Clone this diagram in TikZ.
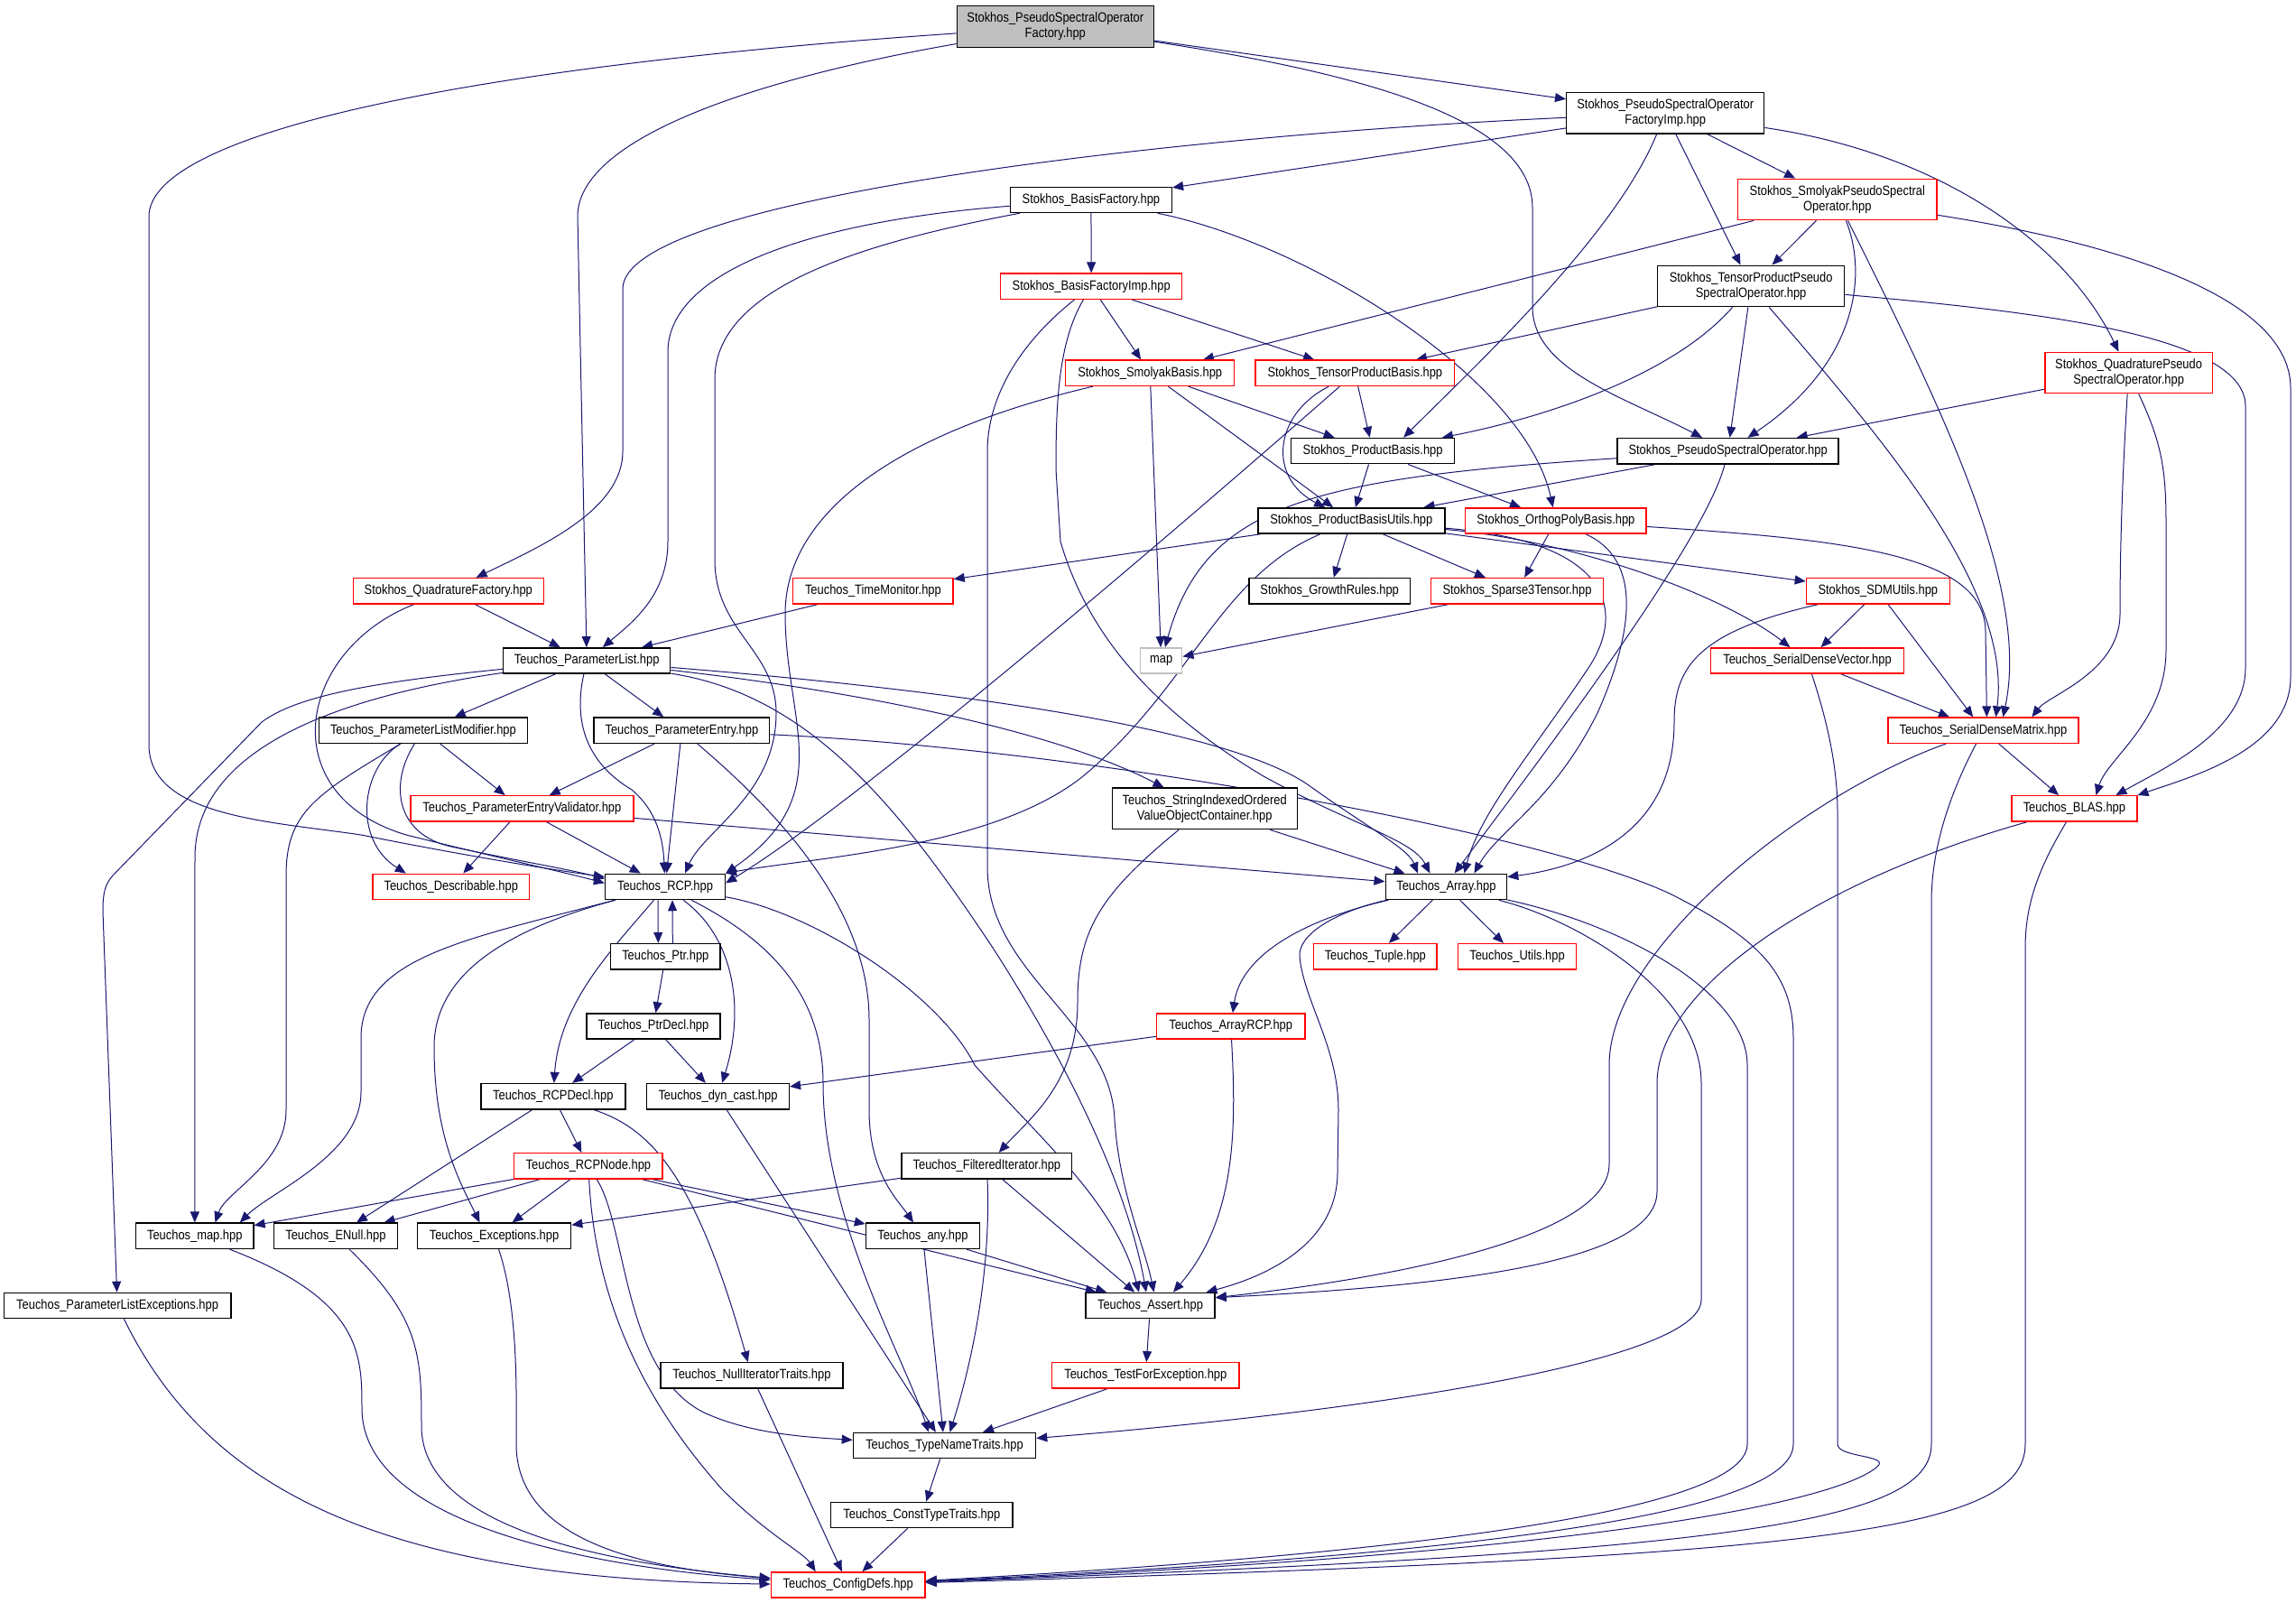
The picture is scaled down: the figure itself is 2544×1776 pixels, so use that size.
\documentclass[tikz,border=0pt]{standalone}
\usepackage{fontspec}
\setmainfont{Liberation Sans}[FakeStretch=0.86]
\usetikzlibrary{arrows.meta}
\definecolor{edgec}{HTML}{191970}
\definecolor{rbord}{HTML}{FF0000}
\definecolor{gfill}{HTML}{BFBFBF}
\pgfdeclarelayer{bgl}
\pgfdeclarelayer{edges}
\pgfsetlayers{bgl,edges,main}
\begin{document}
\begin{tikzpicture}[x=0.5pt,y=-0.5pt,
 box/.style={draw=black, line width=0.7pt, fill=white, inner sep=0pt, minimum height=14.15pt, font=\fontsize{7.5}{8.6}\selectfont, align=center},
 two/.style={minimum height=22.75pt},
 rbox/.style={box, draw=rbord},
 e/.style={draw=edgec, line width=0.5pt, -{Triangle[length=6pt,width=5pt]}}]
\begin{pgfonlayer}{bgl}
\fill[white] (0,0) rectangle (2544,1776);
\end{pgfonlayer}
\useasboundingbox (0,0) rectangle (2544,1776);
% nodes
\node[box,two,fill=gfill,minimum width=109pt] (root) at (1169.3,29.5) {Stokhos\_PseudoSpectralOperator\\Factory.hpp};
\node[box,two,minimum width=109.5pt] (fimp) at (1845.2,125.3) {Stokhos\_PseudoSpectralOperator\\FactoryImp.hpp};
\node[box,minimum width=89.5pt] (bf) at (1208.9,221.4) {Stokhos\_BasisFactory.hpp};
\node[rbox,two,minimum width=110.3pt] (spso) at (2035.8,221) {Stokhos\_SmolyakPseudoSpectral\\Operator.hpp};
\node[rbox,minimum width=100.5pt] (bfi) at (1209.2,317.2) {Stokhos\_BasisFactoryImp.hpp};
\node[box,two,minimum width=103.5pt] (tpso) at (1940.1,317) {Stokhos\_TensorProductPseudo\\SpectralOperator.hpp};
\node[rbox,minimum width=93.5pt] (sb) at (1274.2,413.3) {Stokhos\_SmolyakBasis.hpp};
\node[rbox,minimum width=110.3pt] (tpb) at (1501.3,413.3) {Stokhos\_TensorProductBasis.hpp};
\node[rbox,two,minimum width=92.7pt] (qpso) at (2358.6,413) {Stokhos\_QuadraturePseudo\\SpectralOperator.hpp};
\node[box,minimum width=90.5pt] (pb) at (1521.1,499.6) {Stokhos\_ProductBasis.hpp};
\node[box,minimum width=122.5pt] (pso) at (1914.6,499.7) {Stokhos\_PseudoSpectralOperator.hpp};
\node[box,minimum width=103.5pt] (pbu) at (1497.3,577) {Stokhos\_ProductBasisUtils.hpp};
\node[rbox,minimum width=100.25pt] (opb) at (1723.9,577) {Stokhos\_OrthogPolyBasis.hpp};
\node[rbox,minimum width=105.5pt] (qf) at (496.8,654.7) {Stokhos\_QuadratureFactory.hpp};
\node[rbox,minimum width=88.65pt] (tm) at (967.4,654.7) {Teuchos\_TimeMonitor.hpp};
\node[box,minimum width=89.15pt] (gr) at (1473.2,654.7) {Stokhos\_GrowthRules.hpp};
\node[rbox,minimum width=95.4pt] (s3t) at (1681,654.7) {Stokhos\_Sparse3Tensor.hpp};
\node[rbox,minimum width=79.4pt] (sdmu) at (2080.8,654.7) {Stokhos\_SDMUtils.hpp};
\node[box,minimum width=92.5pt] (pl) at (650.2,732) {Teuchos\_ParameterList.hpp};
\node[box,draw=gfill,minimum width=23pt] (mapstd) at (1286.7,732) {map};
\node[rbox,minimum width=106.75pt] (sdv) at (2002.5,732) {Teuchos\_SerialDenseVector.hpp};
\node[box,minimum width=115.5pt] (plm) at (468.9,809.2) {Teuchos\_ParameterListModifier.hpp};
\node[box,minimum width=97.3pt] (pe) at (755.4,809.2) {Teuchos\_ParameterEntry.hpp};
\node[rbox,minimum width=105.45pt] (sdm) at (2197.4,809.2) {Teuchos\_SerialDenseMatrix.hpp};
\node[rbox,minimum width=123.5pt] (pev) at (578.4,895.9) {Teuchos\_ParameterEntryValidator.hpp};
\node[box,two,minimum width=102.5pt] (sio) at (1334.7,895.9) {Teuchos\_StringIndexedOrdered\\ValueObjectContainer.hpp};
\node[rbox,minimum width=69.4pt] (blas) at (2298.4,895.9) {Teuchos\_BLAS.hpp};
\node[rbox,minimum width=86.7pt] (desc) at (499.8,982.4) {Teuchos\_Describable.hpp};
\node[box,minimum width=66.4pt] (rcp) at (737,982.4) {Teuchos\_RCP.hpp};
\node[box,minimum width=67.2pt] (arr) at (1602.4,982.4) {Teuchos\_Array.hpp};
\node[box,minimum width=60.75pt] (ptr) at (737.3,1059.7) {Teuchos\_Ptr.hpp};
\node[rbox,minimum width=68.3pt] (tuple) at (1523.8,1059.7) {Teuchos\_Tuple.hpp};
\node[rbox,minimum width=65.6pt] (utils) at (1681,1059.7) {Teuchos\_Utils.hpp};
\node[box,minimum width=74pt] (ptrdecl) at (724,1137) {Teuchos\_PtrDecl.hpp};
\node[rbox,minimum width=82.15pt] (arcp) at (1363.7,1137) {Teuchos\_ArrayRCP.hpp};
\node[box,minimum width=80pt] (rcpdecl) at (612.8,1214.7) {Teuchos\_RCPDecl.hpp};
\node[box,minimum width=78.85pt] (dyn) at (795.5,1214.7) {Teuchos\_dyn\_cast.hpp};
\node[rbox,minimum width=82.15pt] (rcpnode) at (651.9,1291.8) {Teuchos\_RCPNode.hpp};
\node[box,minimum width=94.3pt] (fit) at (1093.4,1291.8) {Teuchos\_FilteredIterator.hpp};
\node[box,minimum width=65.05pt] (tmap) at (215.8,1369.3) {Teuchos\_map.hpp};
\node[box,minimum width=68.3pt] (enull) at (371.9,1369.3) {Teuchos\_ENull.hpp};
\node[box,minimum width=85.1pt] (exc) at (547.5,1369.3) {Teuchos\_Exceptions.hpp};
\node[box,minimum width=62.9pt] (any) at (1022.4,1369.3) {Teuchos\_any.hpp};
\node[box,minimum width=125.8pt] (ple) at (130.1,1446.5) {Teuchos\_ParameterListExceptions.hpp};
\node[box,minimum width=71.55pt] (asrt) at (1274.5,1446.5) {Teuchos\_Assert.hpp};
\node[box,minimum width=101.1pt] (nit) at (832.9,1523.9) {Teuchos\_NullIteratorTraits.hpp};
\node[rbox,minimum width=103.8pt] (tfe) at (1269.3,1523.9) {Teuchos\_TestForException.hpp};
\node[box,minimum width=101.1pt] (tnt) at (1046.5,1601.6) {Teuchos\_TypeNameTraits.hpp};
\node[box,minimum width=100.8pt] (ctt) at (1021.3,1678.5) {Teuchos\_ConstTypeTraits.hpp};
\node[rbox,minimum width=85.4pt] (cfg) at (939.7,1756) {Teuchos\_ConfigDefs.hpp};
% edges
\begin{pgfonlayer}{edges}
% root
\draw[e] (root) -- (fimp);
\draw[e] (root) .. controls (500,75) and (165,150) .. (165,240) -- (165,825) .. controls (165,905) and (300,910) .. (400,925) .. controls (500,945) and (600,962) .. ([yshift=-2pt]rcp.north west);
\draw[e] (root) .. controls (850,85) and (640,150) .. (640,240) -- (pl);
\draw[e] (root) .. controls (1500,80) and (1698,130) .. (1698,230) -- (1698,340) .. controls (1698,410) and (1800,440) .. (pso);
% fimp
\draw[e] (fimp) -- (bf);
\draw[e] (fimp) .. controls (1300,150) and (690,220) .. (690,320) -- (690,500) .. controls (690,565) and (600,605) .. (qf);
\draw[e] (fimp) -- (spso);
\draw[e] (fimp) -- (tpso);
\draw[e] (fimp) .. controls (2150,170) and (2290,270) .. (qpso);
\draw[e] (fimp) .. controls (1790,260) and (1640,400) .. ([xshift=17pt]pb.north);
% bf
\draw[e] (bf) -- (bfi);
\draw[e] (bf) .. controls (900,245) and (740,300) .. (740,390) -- (740,600) .. controls (740,660) and (700,690) .. (pl);
\draw[e] (bf) .. controls (950,270) and (792,320) .. (792,420) -- (792,620) .. controls (792,700) and (860,720) .. (860,790) .. controls (860,880) and (780,920) .. ([xshift=11pt]rcp.north);
\draw[e] (bf) .. controls (1450,270) and (1690,420) .. (opb);
% bfi
\draw[e] (bfi) -- (sb);
\draw[e] (bfi) -- (tpb);
\draw[e] (bfi) .. controls (1130,380) and (1094,440) .. (1094,500) -- (1094,960) .. controls (1094,1080) and (1230,1130) .. (1235,1240) .. controls (1240,1320) and (1268,1380) .. ([xshift=2pt]asrt.north);
\draw[e] (bfi) .. controls (1172,380) and (1170,450) .. (1170,520) -- (1175,600) .. controls (1210,720) and (1300,800) .. (1400,860) .. controls (1500,915) and (1565,930) .. ([xshift=-9pt]arr.north);
% spso
\draw[e] (spso) -- (sb);
\draw[e] (spso) -- (tpso);
\draw[e] (spso) .. controls (2068,300) and (2062,400) .. (pso);
\draw[e] (spso) .. controls (2150,450) and (2250,650) .. ([xshift=11pt]sdm.north);
\draw[e] (spso) .. controls (2350,270) and (2538,330) .. (2538,430) -- (2538,750) .. controls (2538,830) and (2430,860) .. (blas.north east);
% tpso
\draw[e] (tpso) -- (tpb);
\draw[e] (tpso) .. controls (1850,420) and (1700,465) .. (pb);
\draw[e] (tpso) -- (pso);
\draw[e] (tpso) .. controls (2080,480) and (2230,650) .. ([xshift=7pt]sdm.north);
\draw[e] (tpso) .. controls (2250,345) and (2488,370) .. (2488,450) -- (2488,740) .. controls (2488,810) and (2400,850) .. ([xshift=23pt]blas.north);
% qpso
\draw[e] (qpso) -- (pso);
\draw[e] (qpso) .. controls (2352,520) and (2349,600) .. (2349,680) .. controls (2349,745) and (2270,770) .. ([xshift=27pt]sdm.north);
\draw[e] (qpso) .. controls (2395,490) and (2400,520) .. (2400,580) -- (2400,720) .. controls (2400,800) and (2335,840) .. ([xshift=12pt]blas.north);
% sb
\draw[e] (sb) .. controls (990,480) and (870,570) .. (870,680) .. controls (870,800) and (930,880) .. (rcp.north east);
\draw[e] (sb) -- (mapstd);
\draw[e] (sb) -- (pbu);
\draw[e] (sb) -- (pb);
% tpb
\draw[e] (tpb) -- (pb);
\draw[e] (tpb) .. controls (1410,460) and (1405,530) .. (pbu);
\draw[e] (tpb) .. controls (1300,590) and (950,890) .. ([yshift=2pt]rcp.east);
% pb
\draw[e] (pb) -- (pbu);
\draw[e] (pb) -- (opb);
% pso
\draw[e] (pso) -- (pbu);
\draw[e] (pso) .. controls (1450,530) and (1335,560) .. (mapstd);
\draw[e] (pso) .. controls (1890,600) and (1700,850) .. ([xshift=4.6pt]arr.north);
% pbu
\draw[e] (pbu) -- (tm);
\draw[e] (pbu) -- (gr);
\draw[e] (pbu) -- (s3t);
\draw[e] (pbu) -- (sdmu);
\draw[e] (pbu) .. controls (1750,600) and (1910,660) .. (sdv);
\draw[e] (pbu) .. controls (1790,600) and (1800,680) .. (1760,740) .. controls (1700,830) and (1640,900) .. ([xshift=10pt]arr.north);
\draw[e] (pbu) .. controls (1350,640) and (1320,760) .. (1200,860) .. controls (1100,940) and (900,950) .. (rcp.north east);
% opb
\draw[e] (opb) -- (s3t);
\draw[e] (opb) .. controls (2050,598) and (2200,615) .. (2200,700) -- ([xshift=2pt]sdm.north);
\draw[e] (opb) .. controls (1820,620) and (1810,700) .. (1770,790) .. controls (1720,890) and (1660,920) .. ([xshift=15.5pt]arr.north);
% qf, tm, s3t
\draw[e] (qf) -- (pl);
\draw[e] (qf) .. controls (330,720) and (300,880) .. (450,925) .. controls (550,950) and (620,965) .. ([yshift=2pt]rcp.west);
\draw[e] (tm) -- (pl);
\draw[e] (s3t) -- (mapstd);
% sdmu
\draw[e] (sdmu) -- (sdv);
\draw[e] (sdmu) -- (sdm);
\draw[e] (sdmu) .. controls (1880,700) and (1855,740) .. (1855,800) .. controls (1855,920) and (1760,960) .. ([yshift=-2pt]arr.north east);
% pl
\draw[e] (pl) -- (plm);
\draw[e] (pl) -- (pe);
\draw[e] (pl) .. controls (635,800) and (650,845) .. (700,875) .. controls (730,900) and (735,935) .. (rcp);
\draw[e] (pl) .. controls (900,760) and (1150,800) .. (sio);
\draw[e] (pl) .. controls (1000,760) and (1350,800) .. (1450,870) .. controls (1520,920) and (1560,940) .. ([xshift=-15.7pt]arr.north);
\draw[e] (pl) .. controls (900,770) and (1000,900) .. (1100,1050) .. controls (1190,1190) and (1250,1320) .. ([xshift=-2.25pt]asrt.north);
\draw[e] (pl) .. controls (400,768) and (216,820) .. (216,950) -- (tmap);
\draw[e] (pl) .. controls (420,755) and (330,770) .. (290,800) -- (125,970) .. controls (116,980) and (114,990) .. (114,1010) -- (ple);
% plm
\draw[e] (plm) -- (pev);
\draw[e] (plm) .. controls (400,850) and (390,930) .. ([xshift=-25pt]desc.north);
\draw[e] (plm) .. controls (430,870) and (440,925) .. (500,938) .. controls (580,955) and (630,963) .. ([yshift=-3pt]rcp.north west);
\draw[e] (plm) .. controls (350,880) and (317,900) .. (317,970) -- (317,1230) .. controls (317,1290) and (250,1320) .. ([xshift=11.35pt]tmap.north);
% pe
\draw[e] (pe) -- (pev);
\draw[e] (pe) -- (rcp);
\draw[e] (pe) .. controls (850,890) and (963,1000) .. (963,1130) -- (963,1230) .. controls (963,1300) and (995,1330) .. (any);
\draw[e] (pe) .. controls (1200,830) and (1700,920) .. (1850,990) .. controls (1950,1040) and (1987,1080) .. (1987,1150) -- (1987,1600) .. controls (1987,1670) and (1700,1720) .. (cfg);
% pev
\draw[e] (pev) -- (desc);
\draw[e] (pev) -- (rcp);
\draw[e] (pev) -- (arr);
% sio
\draw[e] (sio) -- (arr);
\draw[e] (sio) .. controls (1220,990) and (1194,1030) .. (1194,1110) .. controls (1194,1200) and (1140,1240) .. (fit);
% sdv
\draw[e] (sdv) -- (sdm);
\draw[e] (sdv) .. controls (2025,800) and (2036,850) .. (2036,900) -- (2036,1600) .. controls (2036,1615) and (2095,1612) .. (2080,1625) .. controls (2040,1660) and (1800,1720) .. (cfg);
% sdm
\draw[e] (sdm) -- (blas);
\draw[e] (sdm) .. controls (2000,880) and (1783,1050) .. (1783,1180) -- (1783,1290) .. controls (1783,1370) and (1550,1415) .. ([yshift=-3pt]asrt.north east);
\draw[e] (sdm) .. controls (2160,880) and (2140,940) .. (2140,1000) -- (2140,1600) .. controls (2140,1690) and (1900,1720) .. (cfg);
% blas
\draw[e] (blas) .. controls (2000,980) and (1836,1100) .. (1836,1200) -- (1836,1320) .. controls (1836,1400) and (1600,1425) .. ([yshift=-3pt]asrt.north east);
\draw[e] (blas) .. controls (2260,960) and (2244,1000) .. (2244,1050) -- (2244,1600) .. controls (2244,1700) and (2000,1725) .. (cfg);
% rcp
\draw[e] ([xshift=-4pt]rcp.south) -- ([xshift=-4pt]ptr.north);
\draw[e] ([xshift=4pt]ptr.north) -- ([xshift=4pt]rcp.south);
\draw[e] (rcp) .. controls (680,1050) and (620,1110) .. (rcpdecl);
\draw[e] (rcp) .. controls (815,1040) and (825,1120) .. (dyn);
\draw[e] (rcp) .. controls (520,1040) and (400,1060) .. (400,1150) -- (400,1210) .. controls (400,1280) and (300,1320) .. ([xshift=25pt]tmap.north);
\draw[e] (rcp) .. controls (560,1030) and (481,1080) .. (481,1160) .. controls (481,1260) and (510,1310) .. ([xshift=-8pt]exc.north);
\draw[e] (rcp) .. controls (850,1040) and (912,1100) .. (912,1200) .. controls (912,1350) and (1000,1500) .. ([xshift=-8.75pt]tnt.north);
\draw[e] (rcp) .. controls (900,1010) and (1040,1100) .. (1080,1180) .. controls (1150,1260) and (1235,1330) .. ([xshift=-6.25pt]asrt.north);
% ptr, ptrdecl
\draw[e] (ptr) -- (ptrdecl);
\draw[e] (ptrdecl) -- (rcpdecl);
\draw[e] (ptrdecl) -- (dyn);
% rcpdecl
\draw[e] (rcpdecl) -- (rcpnode);
\draw[e] (rcpdecl) -- (enull);
\draw[e] (rcpdecl) .. controls (720,1250) and (770,1300) .. (nit);
\draw[e] (dyn) -- (tnt);
% arcp
\draw[e] (arcp) -- (dyn);
\draw[e] (arcp) .. controls (1370,1250) and (1370,1350) .. ([xshift=12.75pt]asrt.north);
% arr
\draw[e] (arr) -- (tuple);
\draw[e] (arr) -- (utils);
\draw[e] (arr) .. controls (1440,1020) and (1375,1060) .. (arcp);
\draw[e] (arr) .. controls (1480,1010) and (1438,1035) .. (1440,1060) .. controls (1445,1110) and (1483,1160) .. (1483,1230) -- (1482,1300) .. controls (1481,1380) and (1400,1415) .. ([xshift=31pt]asrt.north);
\draw[e] (arr) .. controls (1750,1020) and (1885,1100) .. (1885,1200) -- (1885,1440) .. controls (1885,1510) and (1500,1565) .. (tnt);
\draw[e] (arr) .. controls (1800,1025) and (1936,1100) .. (1936,1180) -- (1936,1600) .. controls (1936,1680) and (1500,1725) .. (cfg);
% rcpnode
\draw[e] (rcpnode) -- (tmap);
\draw[e] (rcpnode) -- (enull);
\draw[e] (rcpnode) -- (exc);
\draw[e] (rcpnode) -- (any);
\draw[e] (rcpnode) -- (asrt);
\draw[e] (rcpnode) .. controls (695,1360) and (690,1520) .. (780,1565) .. controls (830,1588) and (890,1592) .. (tnt);
\draw[e] (rcpnode) .. controls (660,1450) and (720,1560) .. (800,1650) .. controls (850,1700) and (890,1720) .. ([xshift=-18pt]cfg.north);
% fit
\draw[e] (fit) -- (exc);
\draw[e] (fit) -- (asrt);
\draw[e] (fit) .. controls (1098,1400) and (1080,1500) .. ([xshift=3pt]tnt.north);
% lower
\draw[e] (tmap) .. controls (400,1440) and (401,1500) .. (401,1560) .. controls (401,1700) and (700,1740) .. (cfg);
\draw[e] (enull) .. controls (465,1460) and (467,1500) .. (467,1580) .. controls (467,1700) and (700,1735) .. (cfg);
\draw[e] (exc) .. controls (575,1450) and (572,1550) .. (572,1600) .. controls (572,1720) and (750,1740) .. (cfg);
\draw[e] (ple) .. controls (230,1650) and (420,1750) .. (cfg);
\draw[e] (nit) -- (cfg);
\draw[e] (any) -- (asrt);
\draw[e] (any) -- (tnt);
\draw[e] (asrt) -- (tfe);
\draw[e] (tfe) -- (tnt);
\draw[e] (tnt) -- (ctt);
\draw[e] (ctt) -- (cfg);
\end{pgfonlayer}
\end{tikzpicture}
\end{document}
